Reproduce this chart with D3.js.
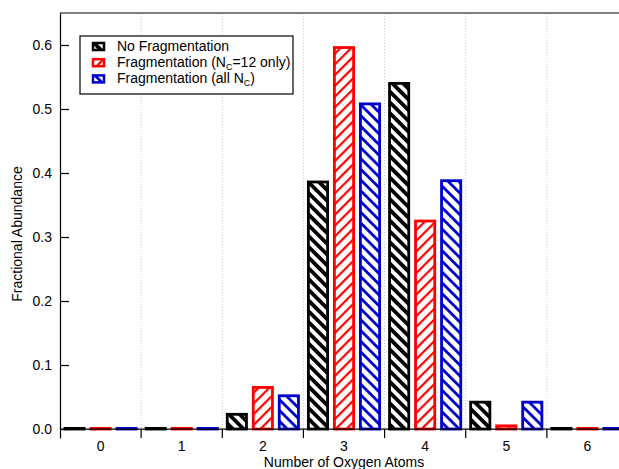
<!DOCTYPE html>
<html>
<head>
<meta charset="utf-8">
<script src="https://cdn.jsdelivr.net/npm/d3@7"></script>
<style>
  html, body { margin: 0; padding: 0; background: #fff; }
  svg { display: block; font-family: "Liberation Sans", Arial, sans-serif; }
</style>
</head>
<body>
<svg id="chart" width="619" height="469"></svg>
<script>
// Number of oxygen atoms per molecule
const categories = ["0", "1", "2", "3", "4", "5", "6"];

// Fractional abundance for each distribution
const noFragmentation   = [0.001, 0.001, 0.023, 0.386, 0.540, 0.042, 0.001];
const fragNc12          = [0.001, 0.001, 0.065, 0.596, 0.325, 0.005, 0.001];
const fragAllNc         = [0.001, 0.001, 0.052, 0.508, 0.388, 0.042, 0.001];

const yTicks = [0.0, 0.1, 0.2, 0.3, 0.4, 0.5, 0.6];

const series = [
  { key: "none", label: ["No Fragmentation"], values: noFragmentation, color: "#000000", pattern: "hatchBlack" },
  { key: "nc12", label: ["Fragmentation (N", "C", "=12 only)"], values: fragNc12, color: "#ff0000", pattern: "hatchRed" },
  { key: "all",  label: ["Fragmentation (all N", "C", ")"], values: fragAllNc, color: "#0000cc", pattern: "hatchBlue" }
];

const svg = d3.select("#chart");
const plotLeft = 60, plotRight = 628, plotTop = 13, axisBottom = 438;

const x0 = d3.scaleBand().domain(categories).range([plotLeft, plotRight]).paddingInner(0).paddingOuter(0);
const x1 = d3.scaleBand().domain(series.map(s => s.key)).range([0, x0.bandwidth()])
  .paddingInner(0.154).paddingOuter(0.137);
const y = d3.scaleLinear().domain([-0.014, 0.65]).range([axisBottom, plotTop]);

// Diagonal hatch patterns
const defs = svg.append("defs");
function hatch(id, color, angle, period, width) {
  const p = defs.append("pattern")
    .attr("id", id)
    .attr("patternUnits", "userSpaceOnUse")
    .attr("width", period).attr("height", period)
    .attr("patternTransform", `rotate(${angle})`);
  p.append("rect").attr("width", period).attr("height", period).attr("fill", "#fff");
  p.append("rect").attr("x", 0).attr("y", 0).attr("width", period).attr("height", width).attr("fill", color);
}
hatch("hatchBlack", "#000000", 45, 7.6, 3.8);
hatch("hatchRed", "#ff0000", -45, 7.6, 2.2);
hatch("hatchBlue", "#0000cc", 45, 7.6, 2.8);

// Vertical dotted grid at category boundaries
const bounds = categories.map(c => x0(c)).slice(1);
svg.append("g").selectAll("line").data(bounds).join("line")
  .attr("x1", d => d).attr("x2", d => d)
  .attr("y1", plotTop).attr("y2", y(0))
  .attr("stroke", "#c8c8c8").attr("stroke-width", 1)
  .attr("stroke-dasharray", "1,2");

// Bars
const sw = 2.8;
const barG = svg.append("g");
series.forEach(s => {
  barG.append("g").selectAll("rect").data(s.values).join("rect")
    .attr("x", (d, i) => x0(categories[i]) + x1(s.key) + sw / 2)
    .attr("width", x1.bandwidth() - sw)
    .attr("y", d => y(d))
    .attr("height", d => y(0) - y(d))
    .attr("fill", `url(#${s.pattern})`)
    .attr("stroke", s.color)
    .attr("stroke-width", sw);
});

// Frame: top line
svg.append("line").attr("x1", plotLeft).attr("x2", 619).attr("y1", plotTop).attr("y2", plotTop)
  .attr("stroke", "#000").attr("stroke-width", 1.2);

// Left axis
const yAxis = d3.axisLeft(y).tickValues(yTicks).tickFormat(d3.format(".1f")).tickSizeInner(-9).tickSizeOuter(0).tickPadding(8);
const yg = svg.append("g").attr("transform", `translate(${plotLeft},0)`).call(yAxis);
yg.select(".domain").attr("stroke-width", 1.2);
yg.selectAll(".tick line").attr("stroke-width", 1.2);
yg.selectAll("text").attr("font-size", 14).attr("fill", "#000");

// Bottom axis at zero, ticks at category boundaries
svg.append("line").attr("x1", plotLeft).attr("x2", 619).attr("y1", y(0)).attr("y2", y(0))
  .attr("stroke", "#000").attr("stroke-width", 1.2);
svg.append("g").selectAll("line").data(bounds).join("line")
  .attr("x1", d => d).attr("x2", d => d)
  .attr("y1", y(0)).attr("y2", y(0) + 9)
  .attr("stroke", "#000").attr("stroke-width", 1.2);
svg.append("g").selectAll("text").data(categories).join("text")
  .attr("x", d => x0(d) + x0.bandwidth() / 2)
  .attr("y", 451)
  .attr("text-anchor", "middle")
  .attr("font-size", 14)
  .text(d => d);

// Axis titles
svg.append("text").attr("x", 344).attr("y", 467).attr("text-anchor", "middle")
  .attr("font-size", 14).text("Number of Oxygen Atoms");
svg.append("text").attr("transform", "translate(22,234) rotate(-90)").attr("text-anchor", "middle")
  .attr("font-size", 14).text("Fractional Abundance");

// Legend
const lg = svg.append("g");
lg.append("rect").attr("x", 80).attr("y", 36).attr("width", 213).attr("height", 58)
  .attr("fill", "#fff").attr("stroke", "#000").attr("stroke-width", 1.2);
series.forEach((s, i) => {
  const cy = 46.5 + i * 16.2;
  lg.append("rect").attr("x", 93).attr("y", cy - 3.5).attr("width", 11).attr("height", 7)
    .attr("fill", `url(#${s.pattern})`).attr("stroke", s.color).attr("stroke-width", 2.5);
  const t = lg.append("text").attr("x", 117).attr("y", cy + 4.5).attr("font-size", 14);
  t.append("tspan").text(s.label[0]);
  if (s.label.length > 1) {
    t.append("tspan").attr("font-size", 9).attr("dy", 2.5).text(s.label[1]);
    t.append("tspan").attr("dy", -2.5).text(s.label[2]);
  }
});
</script>
</body>
</html>
